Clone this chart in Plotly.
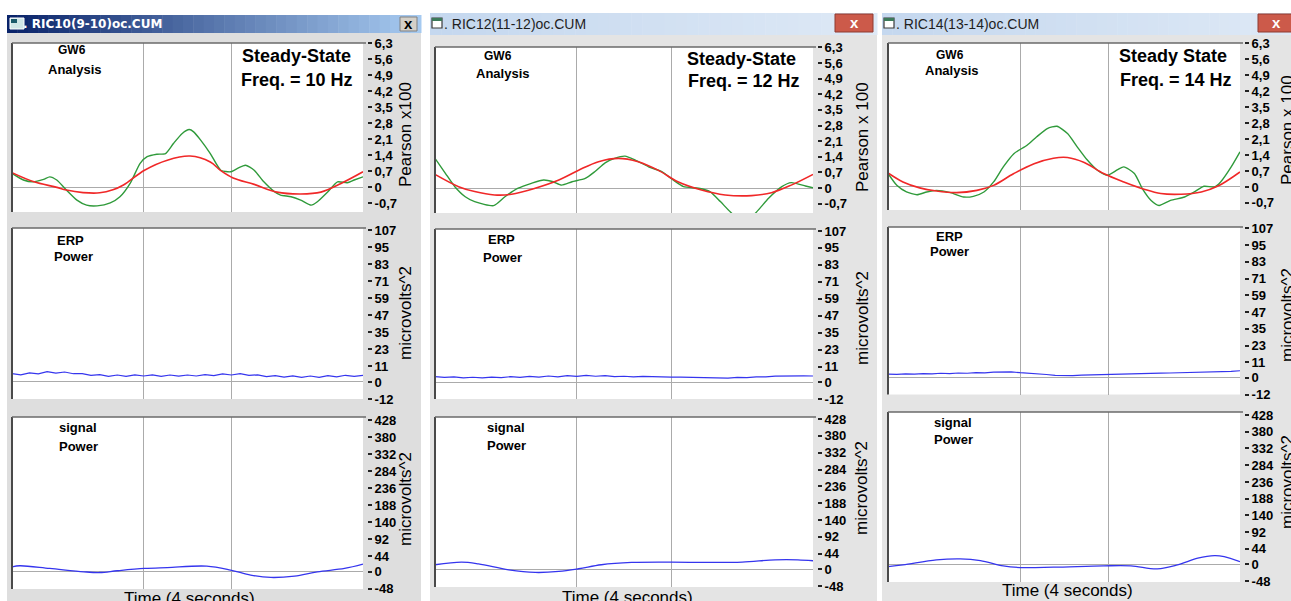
import plotly.graph_objects as go

W, H = 1291, 601

# ---------------- DATA ----------------
# Window 1 (10 Hz)
w1_green_t = [0, 0.13, 0.24, 0.36, 0.43, 0.51, 0.62, 0.74, 0.85, 0.97, 1.12, 1.23, 1.35, 1.46, 1.54, 1.65, 1.75, 1.84, 1.94, 2.02,
              2.07, 2.15, 2.26, 2.38, 2.49, 2.57, 2.66, 2.76, 2.87, 2.99, 3.06, 3.18, 3.29, 3.41, 3.48, 3.60, 3.71, 3.82, 3.90, 4.0]
w1_green_v = [0.60, 0.31, 0.23, 0.34, 0.45, 0.31, -0.13, -0.57, -0.79, -0.82, -0.69, -0.42, 0.19, 1.04, 1.33, 1.44, 1.47, 1.91, 2.35, 2.52,
              2.42, 2.06, 1.47, 0.74, 0.67, 0.82, 0.96, 0.74, 0.23, -0.20, -0.35, -0.42, -0.57, -0.79, -0.64, -0.20, 0.23, 0.19, 0.31, 0.45]
w1_red_t = [0, 0.25, 0.5, 0.62, 0.81, 1.0, 1.15, 1.27, 1.51, 1.77, 2.03, 2.26, 2.38, 2.52, 2.76, 3.02, 3.29, 3.52, 3.75, 4.0]
w1_red_v = [0.63, 0.23, 0.0, -0.13, -0.24, -0.25, -0.12, 0.09, 0.74, 1.18, 1.36, 1.10, 0.72, 0.40, 0.12, -0.22, -0.30, -0.22, 0.16, 0.67]

# Window 2 (12 Hz)
w2_green_t = [0, 0.11, 0.21, 0.32, 0.42, 0.62, 0.74, 0.88, 1.02, 1.15, 1.25, 1.34, 1.45, 1.59, 1.69, 1.80, 1.90, 2.01, 2.12, 2.26,
              2.40, 2.52, 2.63, 2.79, 2.91, 3.02, 3.14, 3.26, 3.39, 3.53, 3.67, 3.77, 3.92, 4.0]
w2_green_v = [1.33, 0.66, 0.06, -0.39, -0.61, -0.79, -0.39, -0.01, 0.21, 0.36, 0.28, 0.13, 0.28, 0.43, 0.73, 1.13, 1.33, 1.43, 1.25, 0.95,
              0.73, 0.36, 0.06, -0.01, -0.16, -0.61, -1.13, -1.50, -1.13, -0.46, 0.06, 0.24, 0.09, 0.01]
w2_red_t = [0, 0.25, 0.42, 0.63, 0.81, 1.06, 1.31, 1.52, 1.73, 1.94, 2.15, 2.36, 2.57, 2.82, 3.07, 3.35, 3.56, 3.77, 4.0]
w2_red_v = [0.61, 0.06, -0.16, -0.31, -0.28, -0.01, 0.36, 0.80, 1.18, 1.33, 1.18, 0.80, 0.28, -0.09, -0.31, -0.34, -0.21, 0.13, 0.61]

# Window 3 (14 Hz)
w3_green_t = [0, 0.10, 0.21, 0.33, 0.44, 0.55, 0.71, 0.86, 0.97, 1.09, 1.20, 1.31, 1.43, 1.58, 1.69, 1.81, 1.92, 2.04, 2.15, 2.26,
              2.38, 2.49, 2.61, 2.68, 2.80, 2.89, 2.99, 3.08, 3.21, 3.37, 3.48, 3.59, 3.71, 3.78, 3.90, 4.0]
w3_green_v = [0.59, 0.07, -0.22, -0.34, -0.22, -0.15, -0.25, -0.44, -0.41, -0.22, 0.22, 0.88, 1.46, 1.83, 2.20, 2.56, 2.66, 2.34, 1.76, 1.20,
              0.73, 0.51, 0.76, 0.88, 0.59, -0.07, -0.59, -0.81, -0.59, -0.44, -0.22, 0.03, 0.0, 0.22, 0.88, 1.54]
w3_red_t = [0, 0.17, 0.36, 0.55, 0.78, 1.01, 1.20, 1.43, 1.66, 1.88, 2.04, 2.23, 2.45, 2.68, 2.91, 3.10, 3.33, 3.56, 3.75, 4.0]
w3_red_v = [0.61, 0.22, -0.04, -0.18, -0.25, -0.15, 0.07, 0.59, 1.02, 1.26, 1.29, 1.07, 0.59, 0.22, -0.10, -0.29, -0.32, -0.22, 0.04, 0.66]

# ERP power (shared time samples)
erp_t = [0.0, 0.1, 0.2, 0.3, 0.4, 0.5, 0.6, 0.7, 0.8, 0.9, 1.0, 1.1, 1.2, 1.3, 1.4, 1.5, 1.6, 1.7, 1.8, 1.9, 2.0,
         2.1, 2.2, 2.3, 2.4, 2.5, 2.6, 2.7, 2.8, 2.9, 3.0, 3.1, 3.2, 3.3, 3.4, 3.5, 3.6, 3.7, 3.8, 3.9, 4.0]
w1_erp = [5.9, 5.0, 6.4, 5.7, 7.2, 6.2, 7.0, 5.8, 5.8, 4.6, 5.2, 4.0, 4.9, 4.0, 5.0, 4.2, 5.0, 4.0, 4.9, 4.1, 4.9,
          4.2, 5.2, 4.4, 5.7, 4.9, 5.8, 4.6, 5.0, 3.8, 4.4, 3.4, 4.3, 3.3, 4.2, 3.3, 4.5, 3.6, 4.7, 3.9, 4.6]
w2_erp = [3.8, 3.3, 3.6, 3.0, 3.4, 2.9, 3.5, 3.1, 3.8, 3.3, 4.0, 3.5, 4.3, 3.7, 4.6, 4.0, 4.8, 4.1, 4.5, 3.9, 4.1,
          3.7, 4.0, 3.7, 3.8, 3.5, 3.5, 3.3, 3.1, 2.9, 2.9, 2.8, 3.3, 3.2, 3.7, 3.6, 4.2, 4.4, 4.7, 4.4, 4.3]
w3_erp = [2.6, 2.4, 2.8, 2.6, 3.0, 2.8, 3.2, 3.0, 3.4, 3.2, 3.7, 3.5, 4.0, 4.3, 4.2, 3.6, 3.3, 2.6, 2.3, 1.7, 1.4,
          1.5, 1.8, 2.0, 2.4, 2.6, 2.8, 2.9, 3.0, 3.1, 3.2, 3.3, 3.4, 3.5, 3.6, 3.7, 3.8, 3.9, 4.1, 4.5, 5.0]

# Signal power
w1_sig_t = [0, 0.09, 0.43, 0.82, 1.0, 1.2, 1.51, 1.77, 2.22, 2.49, 2.72, 2.95, 3.22, 3.48, 3.79, 4.0]
w1_sig_v = [14, 17, 9.4, 0, -2, 3, 9.4, 12, 16, 5, -9.4, -16, -12, 0, 9.4, 21.6]
w2_sig_t = [0, 0.28, 0.46, 0.78, 1.06, 1.31, 1.52, 1.76, 2.08, 2.5, 2.89, 3.25, 3.6, 3.84, 4.0]
w2_sig_v = [12.4, 20, 15, -2, -9.5, -6.7, 1, 12.4, 19, 20, 19, 20, 26.6, 26.6, 23.8]
w3_sig_t = [0, 0.17, 0.55, 0.82, 1.05, 1.31, 1.5, 1.88, 2.45, 2.76, 3.06, 3.29, 3.52, 3.71, 3.82, 4.0]
w3_sig_v = [-6.7, -2, 12.4, 15.3, 10.5, -4.8, -9.5, -8.6, -4.8, -4.8, -13.4, -1.9, 17.2, 24.8, 22, 7.6]

# Tick labels
pearson_ticks = [6.3, 5.6, 4.9, 4.2, 3.5, 2.8, 2.1, 1.4, 0.7, 0, -0.7]
pearson_text = ["6,3", "5,6", "4,9", "4,2", "3,5", "2,8", "2,1", "1,4", "0,7", "0", "-0,7"]
erp_ticks = [107, 95, 83, 71, 59, 47, 35, 23, 11, 0, -12]
sig_ticks = [428, 380, 332, 284, 236, 188, 140, 92, 44, 0, -48]

titles = ["RIC10(9-10)oc.CUM", "RIC12(11-12)oc.CUM", "RIC14(13-14)oc.CUM"]
state_labels = ["Steady-State", "Steady-State", "Steady State"]
freq_labels = ["Freq. = 10 Hz", "Freq. = 12 Hz", "Freq. = 14 Hz"]
pearson_titles = ["Pearson x100", "Pearson x 100", "Pearson x 100"]

green_t = [w1_green_t, w2_green_t, w3_green_t]
green_v = [w1_green_v, w2_green_v, w3_green_v]
red_t = [w1_red_t, w2_red_t, w3_red_t]
red_v = [w1_red_v, w2_red_v, w3_red_v]
erp_v = [w1_erp, w2_erp, w3_erp]
sig_t = [w1_sig_t, w2_sig_t, w3_sig_t]
sig_v = [w1_sig_v, w2_sig_v, w3_sig_v]

# ---------------- LAYOUT GEOMETRY (pixels) ----------------
FONT = "Liberation Sans"
GREEN, RED, BLUE = "#2f9a3a", "#f02828", "#3535ee"
GRID = "#ababab"

wins = [
    dict(body=(7, 421, 33), bar=(7, 421, 15, 33), c0=(10, 36, 106), c1=(166, 202, 240),
         px=(12, 363), py=[(43, 212), (228, 399), (417, 589)],
         rng=[(-1.09, 6.31), (-12, 108.4), (-48.5, 436.5)],
         ttl_x=405, ttl_y=[135, 313, 499],
         gw=(72, 50, 74, 69), erp=(70, 240, 73, 256), sg=(78, 427, 78, 446),
         ss=(296, 56, 297, 80), time=(190, 598)),
    dict(body=(430, 877, 35), bar=(430, 877, 13, 35), c0=(197, 216, 239), c1=(222, 233, 246),
         px=(435, 813), py=[(47, 213), (229, 399), (417, 587)],
         rng=[(-1.12, 6.32), (-12, 108.4), (-51, 433.7)],
         ttl_x=862, ttl_y=[137, 318, 488],
         gw=(498, 56, 502, 73), erp=(501, 239, 502, 257), sg=(506, 427, 506, 445),
         ss=(741, 59, 744, 81), time=(627, 597)),
    dict(body=(882, 1291, 35), bar=(882, 1291, 13, 35), c0=(197, 216, 239), c1=(222, 233, 246),
         px=(888, 1240), py=[(43, 210), (227, 394.5), (412, 582)],
         rng=[(-1.01, 6.31), (-12, 107.9), (-51, 436.6)],
         ttl_x=1287, ttl_y=[130, 315, 482],
         gw=(950, 55, 951, 70), erp=(949, 236, 949, 251), sg=(953, 422, 953, 439),
         ss=(1173, 56, 1176, 80), time=(1067, 590)),
]

fx = lambda p: p / W
fy = lambda p: 1 - p / H

fig = go.Figure()
shapes = []
annots = []
layout = {}


def rect(x0, x1, y0, y1, fill, line=None, lw=0, layer="below"):
    shapes.append(dict(type="rect", xref="paper", yref="paper", x0=fx(x0), x1=fx(x1), y0=fy(y1), y1=fy(y0),
                       fillcolor=fill, line=dict(color=line or fill, width=lw), layer=layer))


def line(x0, y0, x1, y1, color, width, layer="above"):
    shapes.append(dict(type="line", xref="paper", yref="paper", x0=fx(x0), x1=fx(x1), y0=fy(y0), y1=fy(y1),
                       line=dict(color=color, width=width), layer=layer))


def text(s, x, y, size, color="black", bold=False, anchor="center", family=FONT, angle=0):
    annots.append(dict(text=("<b>%s</b>" % s) if bold else s, x=fx(x), y=fy(y), xref="paper", yref="paper",
                       showarrow=False, xanchor=anchor, yanchor="middle", textangle=angle,
                       font=dict(family=family, size=size, color=color)))


k = 0
for wi, wn in enumerate(wins):
    bx0, bx1, by0 = wn["body"]
    rect(bx0, bx1, by0, H, "#dedede" if wi == 0 else "#e4e4e4")
    # title bar gradient
    tx0, tx1, ty0, ty1 = wn["bar"]
    n = 40
    for i in range(n):
        f = i / (n - 1)
        c = tuple(int(wn["c0"][j] + (wn["c1"][j] - wn["c0"][j]) * f) for j in range(3))
        col = "rgb(%d,%d,%d)" % c
        rect(tx0 + (tx1 - tx0) * i / n, tx0 + (tx1 - tx0) * (i + 1) / n + 0.5, ty0, ty1, col)
    if wi == 0:
        rect(10, 24, 18, 29, "#cfe6e6", "#ffffff", 1)
        rect(11, 17, 19, 23, "#1a5a6a")
        text(". " + titles[wi], 21, 24, 12, "white", True, "left", "DejaVu Sans")
        rect(400, 417, 17, 31, "#d4d0c8", "#808080", 1)
        text("x", 408.5, 24, 15, "black", True)
    else:
        rect(tx0 + 2, tx0 + 12, 18, 28, "#ffffff", "#3a3a3a", 1.2)
        rect(tx0 + 2, tx0 + 12, 18, 21, "#3c7a5a")
        text(". " + titles[wi], tx0 + 12, 24, 14, "#1e1e1e", False, "left")
        cx0 = 835 if wi == 1 else 1258
        cx1 = 873 if wi == 1 else 1296
        rect(cx0, cx1, 14, 32, "#cc5a4a", "#8e3a30", 1)
        text("x", 854 if wi == 1 else 1276, 23, 15, "white", True)

    x0, x1 = wn["px"]
    for r in range(3):
        k += 1
        y0, y1 = wn["py"][r]
        # white plot background
        rect(x0, x1, y0, y1, "white")
        # frame: left and top dark borders
        line(x0, y0, x0, y1, "#4a4a4a", 2)
        line(x0, y0, x1 + 3, y0, "#6a6a6a", 1.5)
        xs = "" if k == 1 else str(k)
        layout["xaxis" + xs] = dict(domain=[fx(x0), fx(x1)], range=[0, 4], anchor="y" + xs,
                                    tickvals=[1.5, 2.5], showticklabels=False, ticks="",
                                    showgrid=True, gridcolor=GRID, gridwidth=1.2,
                                    zeroline=False, showline=False, fixedrange=True)
        if r == 0:
            tv, tt = pearson_ticks, pearson_text
        elif r == 1:
            tv, tt = erp_ticks, [str(v) for v in erp_ticks]
        else:
            tv, tt = sig_ticks, [str(v) for v in sig_ticks]
        layout["yaxis" + xs] = dict(domain=[fy(y1), fy(y0)], range=list(wn["rng"][r]), anchor="free",
                                    position=fx(x1 + 4), side="right", tickvals=tv, ticktext=tt,
                                    ticks="outside", ticklen=4, tickwidth=1.5, tickcolor="#222",
                                    tickfont=dict(family=FONT, size=13, color="black", weight="bold"),
                                    showgrid=False, zeroline=True, zerolinecolor=GRID, zerolinewidth=1.2,
                                    showline=False, fixedrange=True, automargin=False)
        xa, ya = "x" + xs, "y" + xs
        if r == 0:
            fig.add_trace(go.Scatter(x=green_t[wi], y=green_v[wi], mode="lines", xaxis=xa, yaxis=ya,
                                     line=dict(color=GREEN, width=1.4, shape="spline", smoothing=0.6),
                                     showlegend=False))
            fig.add_trace(go.Scatter(x=red_t[wi], y=red_v[wi], mode="lines", xaxis=xa, yaxis=ya,
                                     line=dict(color=RED, width=1.6, shape="spline"), showlegend=False))
        elif r == 1:
            fig.add_trace(go.Scatter(x=erp_t, y=erp_v[wi], mode="lines", xaxis=xa, yaxis=ya,
                                     line=dict(color=BLUE, width=1.2), showlegend=False))
        else:
            fig.add_trace(go.Scatter(x=sig_t[wi], y=sig_v[wi], mode="lines", xaxis=xa, yaxis=ya,
                                     line=dict(color=BLUE, width=1.3, shape="spline"), showlegend=False))
        # right axis titles
        ttl = pearson_titles[wi] if r == 0 else "microvolts^2"
        text(ttl, wn["ttl_x"], wn["ttl_y"][r], 17, "black", False, "center", FONT, -90)

    # in-panel labels
    gx, gy, ax_, ay = wn["gw"]
    text("GW6", gx, gy, 12, bold=True)
    text("Analysis", ax_, ay, 13, bold=True)
    ex, ey, px_, py_ = wn["erp"]
    text("ERP", ex, ey, 13, bold=True)
    text("Power", px_, py_, 13, bold=True)
    sx, sy, spx, spy = wn["sg"]
    text("signal", sx, sy, 13, bold=True)
    text("Power", spx, spy, 13, bold=True)
    s1x, s1y, s2x, s2y = wn["ss"]
    text(state_labels[wi], s1x, s1y, 18, bold=True)
    text(freq_labels[wi], s2x, s2y, 18, bold=True)
    tmx, tmy = wn["time"]
    text("Time (4 seconds)", tmx, tmy, 17)

fig.update_layout(width=W, height=H, margin=dict(l=0, r=0, t=0, b=0, pad=0, autoexpand=False),
                  paper_bgcolor="white", plot_bgcolor="rgba(0,0,0,0)",
                  shapes=shapes, annotations=annots, showlegend=False, **layout)

fig.write_html("out.html", config={"displayModeBar": False},
               post_script="document.body.style.margin='0';document.body.style.overflow='hidden';")
